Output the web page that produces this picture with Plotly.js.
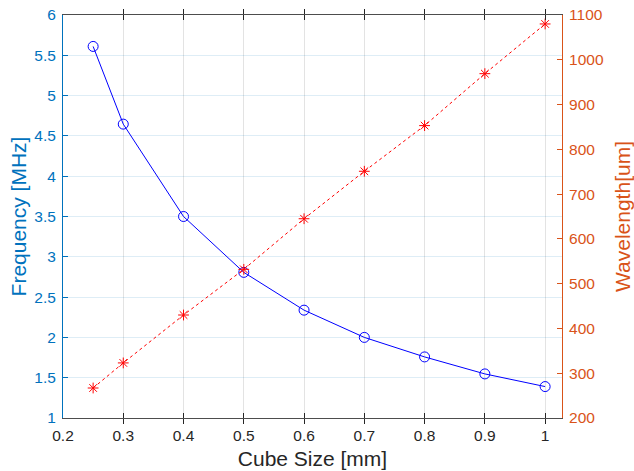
<!DOCTYPE html>
<html><head><meta charset="utf-8">
<script src="https://cdn.plot.ly/plotly-3.0.1.min.js"></script>
<style>html,body{margin:0;padding:0;background:#fff}#chart{width:634px;height:471px}</style>
</head><body><div id="chart"></div>
<script>
const cubeSize = [0.25, 0.3, 0.4, 0.5, 0.6, 0.7, 0.8, 0.9, 1.0];
const frequency = [5.61, 4.646, 3.50, 2.807, 2.338, 2.0, 1.758, 1.547, 1.39];
const wavelength = [267, 323, 430, 532, 645, 751, 853, 969, 1080];
const xTicks = [0.2, 0.3, 0.4, 0.5, 0.6, 0.7, 0.8, 0.9, 1];
const xTickText = ['0.2', '0.3', '0.4', '0.5', '0.6', '0.7', '0.8', '0.9', '1'];
const yTicks = [1, 1.5, 2, 2.5, 3, 3.5, 4, 4.5, 5, 5.5, 6];
const y2Ticks = [200, 300, 400, 500, 600, 700, 800, 900, 1000, 1100];

const blueAx = '#0072BD', orangeAx = '#D95319';
const font = 'Liberation Sans, Arial, sans-serif';

const traces = [
  {x: cubeSize, y: frequency, type: 'scatter', mode: 'lines+markers', yaxis: 'y',
   line: {color: '#0000FF', width: 1},
   marker: {symbol: 'circle-open', size: 10, color: '#0000FF', line: {width: 1, color: '#0000FF'}},
   cliponaxis: false, showlegend: false},
  {x: cubeSize, y: wavelength, type: 'scatter', mode: 'lines+markers', yaxis: 'y2',
   line: {color: '#FF0000', width: 1, dash: 'dot'},
   marker: {symbol: 'asterisk-open', size: 9, color: '#FF0000', line: {width: 1, color: '#FF0000'}},
   cliponaxis: false, showlegend: false}
];

const layout = {
  width: 634, height: 471,
  margin: {l: 63, r: 72, t: 15, b: 53, pad: 0},
  paper_bgcolor: '#fff', plot_bgcolor: '#fff',
  font: {family: font, size: 15.5, color: '#262626'},
  xaxis: {
    range: [0.2, 1.028], tickvals: xTicks, ticktext: xTickText,
    ticks: 'inside', ticklen: 5, tickcolor: '#262626',
    showline: true, linecolor: '#4d4d4d', linewidth: 1, mirror: 'allticks',
    showgrid: true, gridcolor: 'rgba(38,38,38,0.13)', zeroline: false,
    tickfont: {size: 15.5, color: '#262626'}, ticklabelstandoff: 3,
    title: {text: 'Cube Size [mm]', font: {size: 21, color: '#262626'}, standoff: 8}
  },
  yaxis: {
    range: [1, 6], tickvals: yTicks,
    ticks: 'inside', ticklen: 5, tickcolor: blueAx,
    showline: true, linecolor: blueAx, linewidth: 1,
    showgrid: true, gridcolor: 'rgba(0,114,189,0.13)', zeroline: false,
    tickfont: {size: 15.5, color: blueAx}, ticklabelstandoff: 3,
    title: {text: 'Frequency [MHz]', font: {size: 21, color: blueAx}, standoff: 1}
  },
  yaxis2: {
    range: [200, 1100], tickvals: y2Ticks, overlaying: 'y', side: 'right',
    ticks: 'inside', ticklen: 5, tickcolor: orangeAx,
    showline: true, linecolor: orangeAx, linewidth: 1,
    showgrid: false, zeroline: false,
    tickfont: {size: 15.5, color: orangeAx}, ticklabelstandoff: 3,
    title: {text: 'Wavelength[um]', font: {size: 21, color: orangeAx}, standoff: 12}
  }
};

Plotly.newPlot('chart', traces, layout, {staticPlot: true, displayModeBar: false});
</script></body></html>
